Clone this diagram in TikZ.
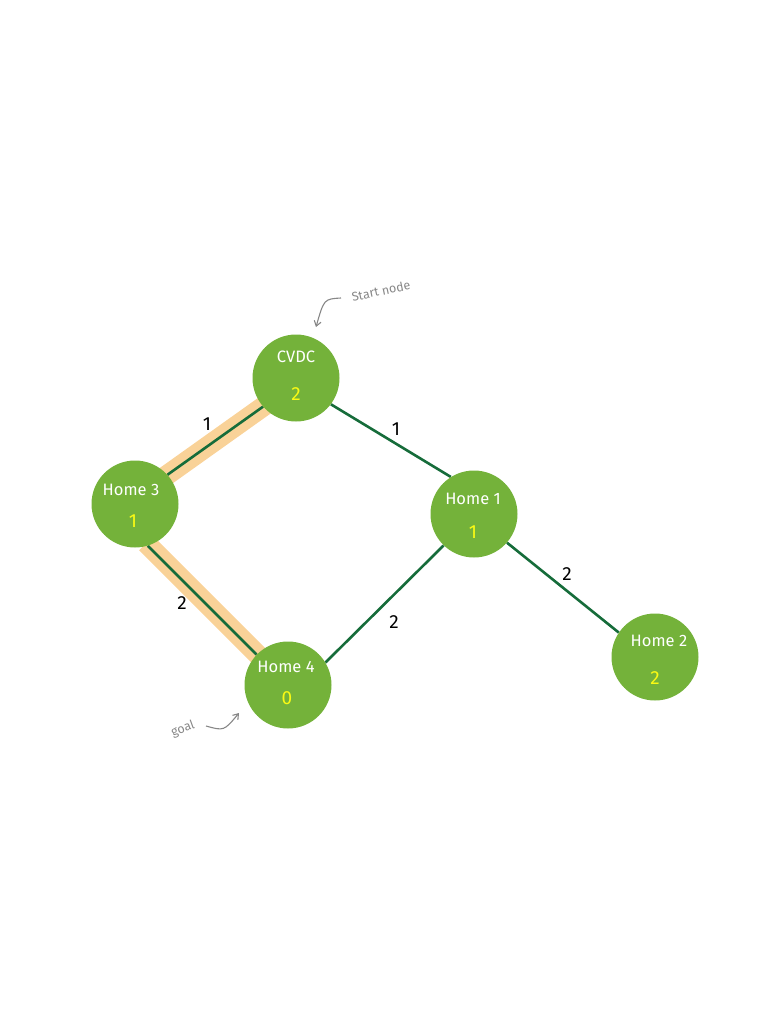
\documentclass[tikz,border=0pt]{standalone}
\usepackage{fontspec}
\setmainfont{Fira Sans}
\usetikzlibrary{arrows.meta,backgrounds}
\definecolor{nodegreen}{RGB}{116,178,58}
\definecolor{edgegreen}{RGB}{22,108,58}
\definecolor{pathorange}{RGB}{249,210,152}
\definecolor{valyellow}{RGB}{250,250,20}
\definecolor{notegray}{RGB}{135,135,135}
\tikzset{
  city/.style={circle, fill=nodegreen, minimum size=87pt, inner sep=0pt},
  cityname/.style={text=white, font=\fontsize{16.5}{19}\selectfont},
  cityval/.style={text=valyellow, font=\fontsize{19}{22}\selectfont},
  edge/.style={draw=edgegreen, line width=2.6pt},
  hilite/.style={draw=pathorange, line width=20pt, shorten <=-8pt, shorten >=-8pt},
  weight/.style={text=black, font=\fontsize{19}{22}\selectfont},
  note/.style={text=notegray, font=\fontsize{12.5}{14}\selectfont},
  notearrow/.style={draw=notegray, line width=1.1pt, -{Straight Barb[length=5pt,width=7pt]}}
}
\begin{document}
\begin{tikzpicture}[x=1pt,y=-1pt]
\useasboundingbox (0,0) rectangle (783,1024);

% nodes
\node[city] (cvdc) at (296,378) {};
\node[city] (h3) at (135,504) {};
\node[city] (h1) at (474,514) {};
\node[city] (h4) at (288,685) {};
\node[city] (h2) at (655,657) {};

\node[cityname] (cvdcN) at (296,357) {CVDC};
\node[cityval]  (cvdcV) at (296,394) {2};
\node[cityname] (h3N) at (131,490) {Home 3};
\node[cityval]  (h3V) at (133,521) {1};
\node[cityname] (h1N) at (473,499) {Home 1};
\node[cityval]  (h1V) at (473,532) {1};
\node[cityname] (h4N) at (286,667) {Home 4};
\node[cityval]  (h4V) at (287,698) {0};
\node[cityname] (h2N) at (659,641) {Home 2};
\node[cityval]  (h2V) at (655,678) {2};

% edges
\begin{scope}[on background layer]
  \draw[hilite] (cvdc.221) -- (h3.42);
  \draw[hilite] ([xshift=4pt,yshift=-3pt]h3.-73) -- ([xshift=4pt,yshift=-3pt]h4.136);
  \draw[edge] (cvdc.221) -- (h3.42);
  \draw[edge] (h3.-73) -- (h4.136);
  \draw[edge] (cvdc.-37) -- (h1.122);
  \draw[edge] (h1.-134) -- (h4.31);
  \draw[edge] (h1.-41) -- (h2.146);
\end{scope}

% weights
\node[weight] (w1) at (207,424) {1};
\node[weight] (w2) at (396,429) {1};
\node[weight] (w3) at (182,603) {2};
\node[weight] (w4) at (394,622) {2};
\node[weight] (w5) at (567,574) {2};

% annotations
\node[note, rotate=12] (startnote) at (381,291) {Start node};
\coordinate (startTail) at (341,298);
\coordinate (startTip) at (316,327);
\draw[notearrow] (startTail) .. controls (324,299) .. (startTip);

\node[note, rotate=20] (goalnote) at (183,729) {goal};
\coordinate (goalTail) at (206,726);
\coordinate (goalTip) at (239,713);
\draw[notearrow] (goalTail) .. controls (224,731) .. (goalTip);
\end{tikzpicture}
\end{document}
